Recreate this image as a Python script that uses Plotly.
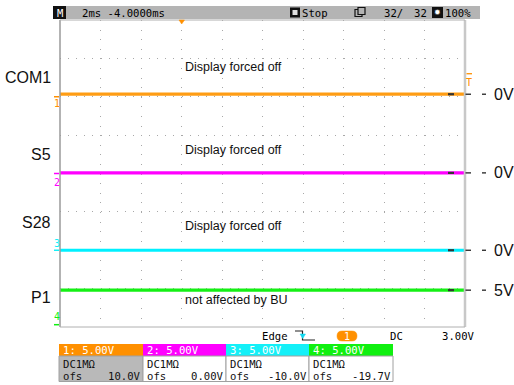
import plotly.graph_objects as go

# ---------------- data ----------------
time_ms = [-6.0, -2.0, 2.0, 6.0, 10.0, 14.0]
channels = ["COM1", "S5", "S28", "P1"]
ch_ids = ["1", "2", "3", "4"]
volts_per_div = [5.0, 5.0, 5.0, 5.0]
offsets_v = [10.0, 0.0, -10.0, -19.7]
com1_v = [0.33, 0.33, 0.33, 0.33, 0.33, 0.33]
s5_v = [0.08, 0.08, 0.08, 0.08, 0.08, 0.08]
s28_v = [0.0, 0.0, 0.0, 0.0, 0.0, 0.0]
p1_v = [4.5, 4.5, 4.5, 4.5, 4.5, 4.5]
level_labels = ["0V", "0V", "0V", "5V"]
notes = ["Display forced off", "Display forced off", "Display forced off", "not affected by BU"]
header_labels = ["1: 5.00V", "2: 5.00V", "3: 5.00V", "4: 5.00V"]
coupling_labels = ["DC1M\u03a9", "DC1M\u03a9", "DC1M\u03a9", "DC1M\u03a9"]
ofs_labels = ["10.0V", "0.00V", "-10.0V", "-19.7V"]
trigger_level_v = 3.0
status_texts = ["2ms -4.0000ms", "Stop", "32/", "32", "100%"]
trig_texts = ["Edge", "DC", "3.00V"]

series = [com1_v, s5_v, s28_v, p1_v]
trace_colors = ["#ff9d14", "#ff00ff", "#00f0ff", "#14f014"]
header_colors = ["#ff9000", "#ff00ff", "#14f0f8", "#10f010"]

# ---------------- layout helpers ----------------
W, H = 514, 385
L, R, T, B = 60, 465, 20, 327
MONO = "DejaVu Sans Mono"
SANS = "Liberation Sans, Arial, sans-serif"


def px(x):
    return (x - L) / (R - L)


def py(y):
    return (B - y) / (B - T)


fig = go.Figure()

for name, vals, off, vdiv, col in zip(channels, series, offsets_v, volts_per_div, trace_colors):
    fig.add_trace(go.Scatter(
        x=time_ms, y=[(v + off) / vdiv for v in vals], mode="lines",
        line=dict(color=col, width=3.2), name=name, showlegend=False, hoverinfo="skip"))

shapes = []
ann = []


def rect(x0, y0, x1, y1, fill, line=None, lw=0):
    shapes.append(dict(type="rect", xref="paper", yref="paper",
                       x0=px(x0), x1=px(x1), y0=py(y1), y1=py(y0),
                       fillcolor=fill, line=dict(color=line or fill, width=lw), layer="above"))


def hline(x0, x1, y, color, w=1, yref="paper"):
    yy = py(y) if yref == "paper" else y
    shapes.append(dict(type="line", xref="paper", yref=yref, x0=px(x0), x1=px(x1),
                       y0=yy, y1=yy, line=dict(color=color, width=w), layer="above"))


def vline(x, y0, y1, color, w=1):
    shapes.append(dict(type="line", xref="paper", yref="paper", x0=px(x), x1=px(x),
                       y0=py(y0), y1=py(y1), line=dict(color=color, width=w), layer="above"))


def text(x, y, s, size=10.6, color="black", anchor="left", family=MONO, yref="paper"):
    ann.append(dict(x=px(x), y=py(y) if yref == "paper" else y, xref="paper", yref=yref,
                    text=s, showarrow=False, xanchor=anchor, yanchor="middle",
                    font=dict(family=family, size=size, color=color)))


# plot border
vline(L, T, B, "#9a9a9a", 1.5)
vline(R, T, B, "#c8c8c8", 2.5)
hline(L, R, T, "#b0b0b0", 1)
hline(L, R, B, "#b0b0b0", 1)

# trigger position marker (top)
shapes.append(dict(type="path", xref="paper", yref="paper",
                   path=f"M{px(179)},{py(20)} L{px(184.5)},{py(20)} L{px(181.7)},{py(24)} Z",
                   fillcolor="#ff9000", line=dict(color="#ff9000", width=0.5), layer="above"))

# status bar
rect(53, 6, 480, 19, "#b4b4b4")
rect(53, 6, 66, 19, "#111111")
text(59.5, 12.7, "M", 10.5, "white", "center")
text(80, 12.7, status_texts[0])
rect(290, 7.5, 300, 17.5, "#111111")
rect(292.5, 10, 297.5, 15, "#e0e0e0")
text(300, 12.7, status_texts[1])
rect(355, 9.5, 362, 16.5, "#b4b4b4", "#111111", 1.2)
rect(358, 7.5, 365, 14.5, "#b4b4b4", "#111111", 1.2)
text(382, 12.7, status_texts[2])
text(412, 12.7, status_texts[3])
rect(432, 7, 443, 18, "#111111")
text(437.5, 12.5, "\u2739", 8, "white", "center", "DejaVu Sans")
text(443, 12.7, status_texts[4])

# channel labels on the left
label_y = [77, 154, 222, 297]
for name, yy in zip(channels, label_y):
    text(53, yy, name, 16, "#111111", "right", SANS)

# annotations inside plot
note_y = [67, 150, 226, 300]
for s, yy in zip(notes, note_y):
    text(183, yy, s, 12.5, "#111111", "left", SANS)

# ground markers + channel numbers
num_dy = [7, 9, -7, -8]
for cid, off, vdiv, col, dy in zip(ch_ids, offsets_v, volts_per_div, header_colors, num_dy):
    g = off / vdiv
    hline(54, 59, g, col, 1.5, yref="y")
    gy = 173.6 - g * 38.375
    text(57, gy + dy, cid, 10, col, "center", MONO)

# right-side level markers and labels
for vals, off, vdiv, lab in zip(series, offsets_v, volts_per_div, level_labels):
    lvl = (vals[-1] + off) / vdiv
    hline(448, 454, lvl, "#333333", 2.2, yref="y")
    hline(465.5, 471, lvl, "#222222", 1.3, yref="y")
    hline(482, 486, lvl, "#222222", 1.3, yref="y")
    ann.append(dict(x=px(493), y=lvl, xref="paper", yref="y", text=lab, showarrow=False,
                    xanchor="left", yanchor="middle", borderpad=0,
                    font=dict(family=SANS, size=16, color="#111111")))

# trigger level marker
tl = (trigger_level_v + offsets_v[0]) / volts_per_div[0]
hline(466.5, 472, tl, "#ff9000", 1.3, yref="y")
ann.append(dict(x=px(469.3), y=tl, xref="paper", yref="y", text="T", showarrow=False,
                xanchor="center", yanchor="top", yshift=-1,
                font=dict(family=MONO, size=10, color="#ff9000")))

# trigger info row
text(260, 336, trig_texts[0])
shapes.append(dict(type="path", xref="paper", yref="paper",
                   path=f"M{px(295)},{py(331)} H{px(302.5)} V{py(340)} H{px(315)}",
                   line=dict(color="#222222", width=1.2), layer="above"))
shapes.append(dict(type="path", xref="paper", yref="paper",
                   path=f"M{px(300)},{py(334)} L{px(305.5)},{py(334)} L{px(302.7)},{py(338.5)} Z",
                   fillcolor="#10d8f0", line=dict(color="#10d8f0", width=0.5), layer="above"))
shapes.append(dict(type="path", xref="paper", yref="paper",
                   path=(f"M{px(342)},{py(331)} L{px(352)},{py(331)} Q{px(357)},{py(331)} {px(357)},{py(336)} "
                         f"Q{px(357)},{py(341)} {px(352)},{py(341)} L{px(342)},{py(341)} "
                         f"Q{px(337)},{py(341)} {px(337)},{py(336)} Q{px(337)},{py(331)} {px(342)},{py(331)} Z"),
                   fillcolor="#ff9000", line=dict(color="#ff9000", width=0.5), layer="above"))
text(347, 336.3, "1", 10, "white", "center")
text(388, 336, trig_texts[1])
text(440, 336, trig_texts[2])

# channel boxes
box_x = [(59, 143), (143, 226), (226, 309), (309, 393)]
for i, ((x0, x1), hl, cl, ol, hc) in enumerate(zip(box_x, header_labels, coupling_labels, ofs_labels, header_colors)):
    rect(x0, 344, x1, 356, hc)
    rect(x0, 356, x1, 381.5, "#b9b9b9" if i == 0 else "white", "#a0a0a0", 1)
    text(x0 + 2, 350.3, hl, 10.6, "white")
    text(x0 + 2, 363.5, cl, 10.6, "#111111")
    text(x0 + 2, 376, "ofs", 10.6, "#111111")
    text(x1 - 0.5, 376, ol, 10.6, "#111111", "right")

fig.update_layout(
    width=W, height=H,
    margin=dict(l=L, r=W - R, t=T, b=H - B, pad=0),
    paper_bgcolor="white", plot_bgcolor="white",
    shapes=shapes, annotations=ann, showlegend=False,
    xaxis=dict(range=[-6, 14], dtick=2, tick0=0, showticklabels=False, ticks="",
               showgrid=True, gridcolor="#a8a8a8", gridwidth=1, griddash="1px,8.6px",
               zeroline=False, showline=False, fixedrange=True),
    yaxis=dict(range=[-4, 4], dtick=1, tick0=0, showticklabels=False, ticks="",
               showgrid=True, gridcolor="#a8a8a8", gridwidth=1, griddash="1px,7.1px",
               zeroline=False, showline=False, fixedrange=True),
)

fig.write_html("out.html", config={"displayModeBar": False},
               post_script="document.body.style.margin='0px';document.body.style.overflow='hidden';")
